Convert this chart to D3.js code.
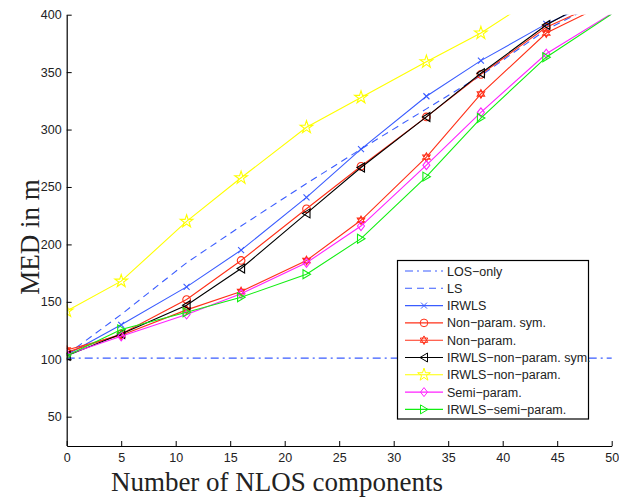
<!DOCTYPE html>
<html><head><meta charset="utf-8">
<script src="https://cdnjs.cloudflare.com/ajax/libs/d3/7.8.5/d3.min.js"></script>
<style>body{margin:0;background:#fff}svg{display:block}</style>
</head><body><svg id="c" width="619" height="497"></svg>
<script>
// ---- data ----
const xValues = [0, 5, 11, 16, 22, 27, 33, 38, 44, 50];
const losX = [0, 50];
const losOnly = [101, 101];
const ls = [104, 139, 184, 216, 253, 283, 318, 347, 387, 416];
const irwls = [104, 130, 163, 195, 241, 283, 329, 360, 392, 418];
const nonParamSym = [106, 122, 152, 186, 231, 268, 311, 348, 389, 415];
const nonParam = [108, 121, 143, 159, 186, 221, 276, 331, 384, 412];
const irwlsNonParamSym = [103, 122, 147, 179, 227, 267, 311, 349, 391, 422];
const irwlsNonParam = [142, 168, 220, 258, 302, 328, 359, 384, 421, 455];
const semiParam = [104, 120, 139, 157, 184, 216, 269, 315, 366, 401];
const irwlsSemiParam = [103, 126, 141, 154, 174, 205, 259, 310, 363, 400.5];
const xTicks = [0, 5, 10, 15, 20, 25, 30, 35, 40, 45, 50];
const yTicks = [50, 100, 150, 200, 250, 300, 350, 400];
const legendLabels = ["LOS\u2212only", "LS", "IRWLS", "Non\u2212param. sym.", "Non\u2212param.",
  "IRWLS\u2212non\u2212param. sym.", "IRWLS\u2212non\u2212param.", "Semi\u2212param.", "IRWLS\u2212semi\u2212param."];

const series = [
  {x: losX, y: losOnly, color: "#3a5cff", dash: "8,4,2,4", marker: null},
  {x: xValues, y: ls, color: "#3a5cff", dash: "7,5", marker: null},
  {x: xValues, y: irwls, color: "#3a5cff", dash: null, marker: "x"},
  {x: xValues, y: nonParamSym, color: "#ff3018", dash: null, marker: "circle"},
  {x: xValues, y: nonParam, color: "#ff3018", dash: null, marker: "hexagram"},
  {x: xValues, y: irwlsNonParamSym, color: "#000000", dash: null, marker: "triLeft"},
  {x: xValues, y: irwlsNonParam, color: "#ffff00", dash: null, marker: "star"},
  {x: xValues, y: semiParam, color: "#ff22ff", dash: null, marker: "diamond"},
  {x: xValues, y: irwlsSemiParam, color: "#11ee11", dash: null, marker: "triRight"}
];

const svg = d3.select("#c");
const L = 66.7, R = 611.7, T = 14.7, B = 446;
const x = d3.scaleLinear().domain([0, 50]).range([L, R]);
const y = d3.scaleLinear().domain([25, 400]).range([B - 0.6, T]);

svg.append("defs").append("clipPath").attr("id", "clip")
  .append("rect").attr("x", L).attr("y", T).attr("width", R - L + 1).attr("height", B - T);

function markerPath(type) {
  switch (type) {
    case "x": return "M-3,-3L3,3M-3,3L3,-3";
    case "circle": return d3.symbol().type(d3.symbolCircle).size(46)();
    case "diamond": return "M0,-4.5L3.5,0L0,4.5L-3.5,0Z";
    case "triLeft": return "M-4,0L3.5,-4.5L3.5,4.5Z";
    case "triRight": return "M4,0L-3.5,-4.5L-3.5,4.5Z";
    case "star": return d3.symbol().type(d3.symbolStar).size(50)();
    case "hexagram": {
      const r = 4.3;
      const p = a => [r * Math.cos(a), r * Math.sin(a)];
      const t1 = [-90, 30, 150].map(d => p(d * Math.PI / 180));
      const t2 = [90, 210, 330].map(d => p(d * Math.PI / 180));
      return "M" + t1.join("L") + "Z M" + t2.join("L") + "Z";
    }
  }
  return "";
}

const plot = svg.append("g").attr("clip-path", "url(#clip)");
const line = d3.line().x(d => x(d[0])).y(d => y(d[1]));
series.forEach(s => {
  const pts = s.x.map((v, i) => [v, s.y[i]]);
  plot.append("path").attr("d", line(pts)).attr("fill", "none")
    .attr("stroke", s.color).attr("stroke-width", 1.1)
    .attr("stroke-dasharray", s.dash);
  if (s.marker) {
    plot.selectAll(null).data(pts.filter(p => p[1] <= 400)).enter().append("path")
      .attr("transform", p => `translate(${x(p[0])},${y(p[1])})`)
      .attr("d", markerPath(s.marker)).attr("fill", "none")
      .attr("stroke", s.color).attr("stroke-width", 1.1);
  }
});

// axes
const xAxis = d3.axisBottom(x).tickValues(xTicks).tickSizeInner(-5).tickSizeOuter(0).tickPadding(7);
const yAxis = d3.axisLeft(y).tickValues(yTicks).tickSizeInner(-5).tickSizeOuter(0).tickPadding(9);
const gx = svg.append("g").attr("transform", `translate(0,${B})`).call(xAxis);
const gy = svg.append("g").attr("transform", `translate(${L},0)`).call(yAxis);
[gx, gy].forEach(g => {
  g.select(".domain").attr("stroke", "#000").attr("stroke-width", 1.2);
  g.selectAll(".tick line").attr("stroke", "#000");
  g.selectAll("text").attr("font-family", "Liberation Sans, Arial, sans-serif")
    .attr("font-size", 12.5).attr("fill", "#222");
});
gy.selectAll(".tick text").attr("dx", "4");
gx.selectAll(".tick text").attr("dy", "0.75em");

svg.append("text").attr("x", 277).attr("y", 491).attr("text-anchor", "middle")
  .attr("font-family", "Liberation Serif, Times New Roman, serif").attr("font-size", 27)
  .attr("fill", "#222").text("Number of NLOS components");
svg.append("text").attr("transform", "translate(39,237) rotate(-90)").attr("text-anchor", "middle")
  .attr("font-family", "Liberation Serif, Times New Roman, serif").attr("font-size", 27)
  .attr("fill", "#222").text("MED in m");

// legend
const lg = svg.append("g");
lg.append("rect").attr("x", 397.5).attr("y", 260.5).attr("width", 191).attr("height", 158.5)
  .attr("fill", "#fff").attr("stroke", "#000").attr("stroke-width", 1.2);
series.forEach((s, i) => {
  const yy = 271 + i * 17.3;
  lg.append("line").attr("x1", 405).attr("x2", 443).attr("y1", yy).attr("y2", yy)
    .attr("stroke", s.color).attr("stroke-width", 1.1).attr("stroke-dasharray", s.dash);
  if (s.marker) lg.append("path").attr("transform", `translate(424,${yy})`)
    .attr("d", markerPath(s.marker)).attr("fill", "none").attr("stroke", s.color);
  lg.append("text").attr("x", 447).attr("y", yy).attr("dy", "0.36em")
    .attr("font-family", "Liberation Sans, Arial, sans-serif").attr("font-size", 12.5)
    .attr("fill", "#222").text(legendLabels[i]);
});
</script></body></html>
